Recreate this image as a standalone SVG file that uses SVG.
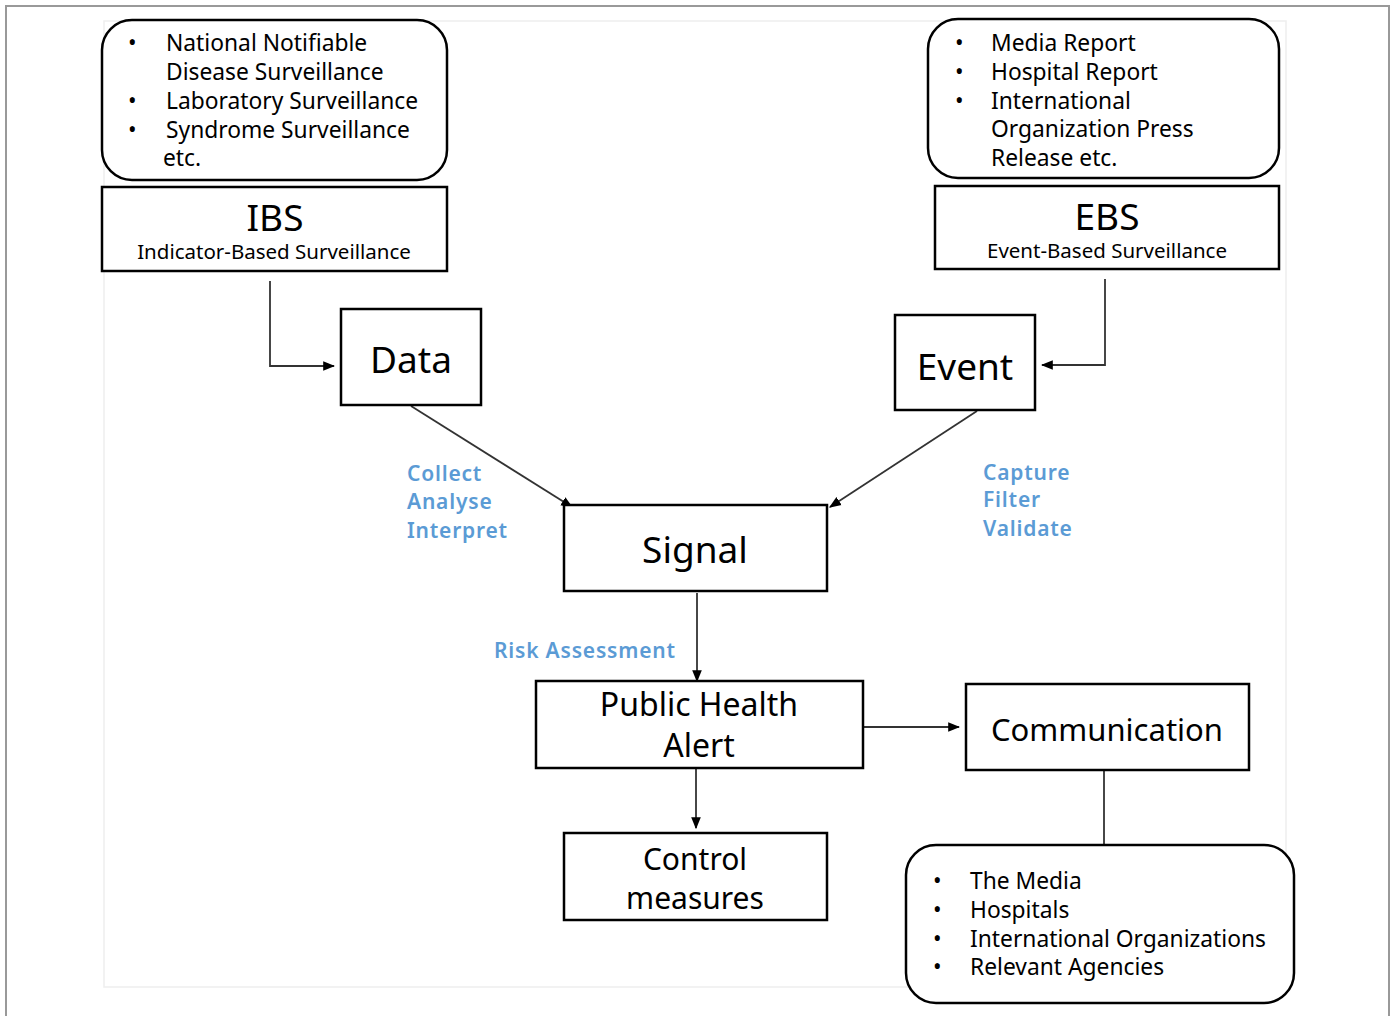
<svg xmlns="http://www.w3.org/2000/svg" width="1395" height="1016" viewBox="0 0 1395 1016">
<style>
.box{fill:#fff;stroke:#000;stroke-width:2.5}
.rbox{fill:#fff;stroke:#000;stroke-width:2.5}
.t{font-family:"Noto Sans","Open Sans",sans-serif;fill:#000}
.li{font-size:22.8px}
.big{font-size:37px;text-anchor:middle}
.mid{font-size:32px;text-anchor:middle}
.sub{font-size:20.5px;text-anchor:middle}
.blue{font-family:"Noto Sans","Open Sans",sans-serif;font-size:21px;font-weight:600;fill:#5B9BD5;letter-spacing:0.8px}
.con{stroke:#333;stroke-width:1.8;fill:none}
</style>
<defs>
<marker id="ah" viewBox="0 0 10 10" refX="9" refY="5" markerWidth="12" markerHeight="12" markerUnits="userSpaceOnUse" orient="auto">
<path d="M0,1 L10,5 L0,9 Z" fill="#000"/>
</marker>
</defs>
<rect x="0" y="0" width="1395" height="1016" fill="#fff"/>
<rect x="6" y="6" width="1383" height="1020" fill="none" stroke="#999" stroke-width="2"/>
<rect x="104" y="21" width="1182" height="966" fill="none" stroke="#eee" stroke-width="1.5"/>

<g id="connectors">
<path class="con" d="M270,281 V366 H334" marker-end="url(#ah)"/>
<path class="con" d="M1105,279 V365 H1042" marker-end="url(#ah)"/>
<path class="con" d="M411,406 L572,507" marker-end="url(#ah)"/>
<path class="con" d="M977,411 L830,507" marker-end="url(#ah)"/>
<path class="con" d="M697,593 V681" marker-end="url(#ah)"/>
<path class="con" d="M696,769 V828" marker-end="url(#ah)"/>
<path class="con" d="M864,727 H959" marker-end="url(#ah)"/>
<path class="con" d="M1104,771 V845"/>
</g>

<g id="ibs-sources">
<rect class="rbox" x="102" y="20" width="345" height="160" rx="30"/>
<text class="t li" x="128" y="51">•</text><text class="t li" x="166" y="51">National Notifiable</text>
<text class="t li" x="166" y="80">Disease Surveillance</text>
<text class="t li" x="128" y="109">•</text><text class="t li" x="166" y="109">Laboratory Surveillance</text>
<text class="t li" x="128" y="138">•</text><text class="t li" x="166" y="138">Syndrome Surveillance</text>
<text class="t li" x="163" y="166">etc.</text>
</g>
<g id="ibs">
<rect class="box" x="102" y="187" width="345" height="84"/>
<text class="t big" x="275" y="231">IBS</text>
<text class="t sub" x="274" y="259">Indicator-Based Surveillance</text>
</g>
<g id="ebs-sources">
<rect class="rbox" x="928" y="19" width="351" height="159" rx="30"/>
<text class="t li" x="955" y="51">•</text><text class="t li" x="991" y="51">Media Report</text>
<text class="t li" x="955" y="80">•</text><text class="t li" x="991" y="80">Hospital Report</text>
<text class="t li" x="955" y="109">•</text><text class="t li" x="991" y="109">International</text>
<text class="t li" x="991" y="137">Organization Press</text>
<text class="t li" x="991" y="166">Release etc.</text>
</g>
<g id="ebs">
<rect class="box" x="935" y="186" width="344" height="83"/>
<text class="t big" x="1107" y="230">EBS</text>
<text class="t sub" x="1107" y="258">Event-Based Surveillance</text>
</g>
<g id="data">
<rect class="box" x="341" y="309" width="140" height="96"/>
<text class="t big" x="411" y="373">Data</text>
</g>
<g id="event">
<rect class="box" x="895" y="315" width="140" height="95"/>
<text class="t big" x="965" y="380">Event</text>
</g>
<g id="signal">
<rect class="box" x="564" y="505" width="263" height="86"/>
<text class="t big" x="695" y="563">Signal</text>
</g>
<g id="labels">
<text class="blue" x="407" y="481">Collect</text>
<text class="blue" x="407" y="509">Analyse</text>
<text class="blue" x="407" y="538">Interpret</text>
<text class="blue" x="983" y="480">Capture</text>
<text class="blue" x="983" y="507">Filter</text>
<text class="blue" x="983" y="536">Validate</text>
<text class="blue" x="494" y="658">Risk Assessment</text>
</g>
<g id="alert">
<rect class="box" x="536" y="681" width="327" height="87"/>
<text class="t mid" x="699" y="716">Public Health</text>
<text class="t mid" x="699" y="757">Alert</text>
</g>
<g id="control">
<rect class="box" x="564" y="833" width="263" height="87"/>
<text class="t mid" x="695" y="870" style="font-size:30px">Control</text>
<text class="t mid" x="695" y="909" style="font-size:30px">measures</text>
</g>
<g id="communication">
<rect class="box" x="966" y="684" width="283" height="86"/>
<text class="t mid" x="1107" y="741" style="font-size:31px">Communication</text>
</g>
<g id="recipients">
<rect class="rbox" x="906" y="845" width="388" height="158" rx="30"/>
<text class="t li" x="933" y="889">•</text><text class="t li" x="970" y="889">The Media</text>
<text class="t li" x="933" y="918">•</text><text class="t li" x="970" y="918">Hospitals</text>
<text class="t li" x="933" y="947">•</text><text class="t li" x="970" y="947">International Organizations</text>
<text class="t li" x="933" y="975">•</text><text class="t li" x="970" y="975">Relevant Agencies</text>
</g>
</svg>
